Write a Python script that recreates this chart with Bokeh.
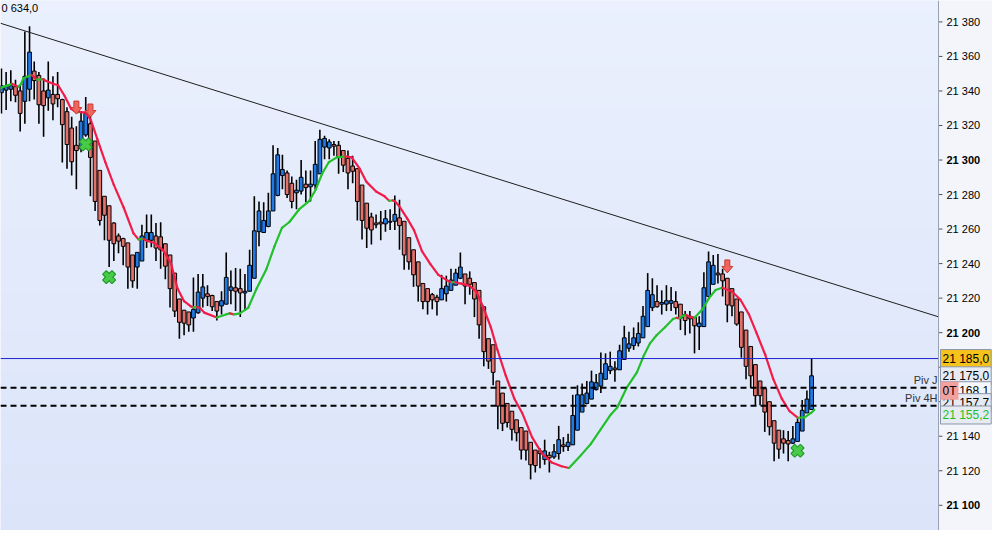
import math

from bokeh.core.properties import value
from bokeh.embed import file_html
from bokeh.models import BoxAnnotation, ColumnDataSource, Label, Range1d, Span
from bokeh.plotting import figure
from bokeh.resources import INLINE

# OHLC per candle
opens = [21339, 21340.5, 21341, 21342.5, 21340, 21334, 21341, 21351.5, 21349, 21340,
         21336, 21338, 21338, 21335, 21328, 21318.5, 21308.5, 21306.5, 21314.5, 21321,
         21311, 21294, 21279, 21273.5, 21263.5, 21256, 21254.5, 21252, 21245, 21238,
         21241.5, 21253.5, 21253.5, 21256, 21255.5, 21251.5, 21245, 21234.5, 21219.5, 21213,
         21212, 21208.5, 21211.5, 21220, 21222.5, 21221.5, 21218, 21215.5, 21216.5, 21224.5,
         21226, 21225.5, 21223, 21224, 21231.5, 21258.5, 21258, 21261.5, 21270.5, 21279.5,
         21291, 21292.5, 21286.5, 21281, 21282, 21286, 21284.5, 21285.5, 21292, 21307.5,
         21307, 21309, 21308.5, 21305.5, 21301, 21296.5, 21295, 21285.5, 21275, 21267,
         21263.5, 21264, 21263, 21264, 21264.5, 21266.5, 21264.5, 21255, 21248, 21241,
         21228.5, 21225.5, 21222, 21220.5, 21219, 21222.5, 21224.5, 21227.5, 21231.5, 21234,
         21231.5, 21229, 21224.5, 21215, 21196.5, 21193, 21172, 21165, 21159, 21154.5,
         21149.5, 21145, 21143, 21136.5, 21132, 21131.5, 21126.5, 21129, 21128, 21130,
         21135, 21134, 21135, 21143.5, 21154, 21159, 21161.5, 21167, 21169, 21173,
         21178, 21179.5, 21178.5, 21184.5, 21191, 21192.5, 21194, 21197, 21203.5, 21214.5,
         21218, 21216.5, 21216.5, 21217, 21218, 21216.5, 21210.5, 21209.5, 21209, 21203.5,
         21203.5, 21221, 21228, 21234.5, 21234, 21231.5, 21225.5, 21219.5, 21212, 21201.5,
         21192, 21181.5, 21172, 21167.5, 21160, 21149, 21143.5, 21138.5, 21137.5, 21136,
         21137, 21143, 21153.5, 21155.5]
highs = [21353, 21351, 21352, 21346.5, 21343.5, 21374.5, 21377.5, 21357, 21351, 21347.5,
         21357, 21348.5, 21351, 21335.5, 21330.5, 21325, 21319.5, 21328, 21336.5, 21327,
         21311, 21294, 21279, 21273.5, 21264, 21257.5, 21255, 21252, 21245, 21246.5,
         21262.5, 21268.5, 21268.5, 21263.5, 21264, 21251.5, 21245, 21234.5, 21219.5, 21213,
         21212, 21232, 21234, 21234, 21227.5, 21222, 21218, 21224, 21246.5, 21236,
         21237.5, 21237, 21234, 21248, 21279, 21276, 21275.5, 21281, 21308.5, 21307,
         21303, 21294, 21290.5, 21288.5, 21300, 21294, 21294, 21311, 21317.5, 21314,
         21312, 21311, 21311, 21305.5, 21305.5, 21302.5, 21295, 21285.5, 21275, 21269.5,
         21268.5, 21270.5, 21271, 21271.5, 21279.5, 21277, 21264.5, 21255, 21248, 21241,
         21228.5, 21225.5, 21223, 21222, 21233.5, 21233, 21237, 21237, 21246.5, 21234,
         21235.5, 21229, 21224.5, 21215, 21196.5, 21193, 21172, 21165, 21159, 21154.5,
         21149.5, 21145, 21143, 21136.5, 21132, 21133, 21138, 21131, 21135.5, 21146,
         21139.5, 21141.5, 21164, 21169.5, 21170.5, 21172, 21178, 21176, 21188.5, 21188,
         21189, 21183.5, 21193, 21204, 21200.5, 21203, 21206, 21215.5, 21234.5, 21231.5,
         21227.5, 21224.5, 21227.5, 21226.5, 21224, 21216.5, 21212.5, 21212.5, 21209, 21209.5,
         21235, 21247, 21245, 21245.5, 21237, 21231.5, 21225.5, 21219.5, 21212, 21201.5,
         21192, 21181.5, 21172, 21167.5, 21160, 21149, 21143.5, 21143.5, 21143, 21146,
         21150.5, 21161, 21166.5, 21185]
lows = [21327, 21329, 21334, 21333.5, 21316.5, 21321, 21334, 21335, 21321, 21313.5,
        21328.5, 21323, 21330.5, 21298.5, 21295, 21291, 21283, 21304.5, 21313.5, 21279,
        21270.5, 21262, 21253.5, 21238, 21241.5, 21246, 21239, 21225.5, 21226, 21225.5,
        21241.5, 21249, 21249.5, 21241.5, 21237, 21231, 21214.5, 21209, 21196.5, 21198.5,
        21200.5, 21200.5, 21211, 21214.5, 21215.5, 21212.5, 21207, 21210.5, 21216.5, 21216.5,
        21212.5, 21209, 21212.5, 21224, 21231.5, 21250, 21258, 21261, 21270.5, 21279,
        21283, 21278, 21272, 21271.5, 21280, 21275.5, 21276, 21283, 21292, 21300.5,
        21300.5, 21302.5, 21292, 21293, 21283, 21286.5, 21265, 21254, 21249, 21251,
        21260.5, 21253.5, 21258.5, 21259.5, 21259.5, 21248, 21236.5, 21236.5, 21226.5, 21218,
        21213.5, 21210.5, 21213.5, 21210, 21219, 21218, 21224.5, 21227.5, 21231, 21216.5,
        21222, 21209, 21196.5, 21180.5, 21179, 21169.5, 21144, 21143, 21145, 21137.5,
        21137, 21126.5, 21126, 21115, 21119, 21121.5, 21123.5, 21119, 21127, 21126.5,
        21131, 21131.5, 21135, 21143.5, 21154, 21158.5, 21161.5, 21166.5, 21165, 21173,
        21176, 21171.5, 21178.5, 21184.5, 21189, 21190, 21192, 21197, 21203.5, 21212.5,
        21214.5, 21210.5, 21212.5, 21212.5, 21210.5, 21201.5, 21198.5, 21199.5, 21188, 21190,
        21203.5, 21221, 21228, 21228.5, 21221, 21206, 21209.5, 21204, 21185.5, 21173,
        21168, 21158, 21158, 21142.5, 21140.5, 21125.5, 21127, 21130, 21125.5, 21135.5,
        21137, 21143, 21153.5, 21155.5]
closes = [21343, 21342.5, 21343, 21337.5, 21327, 21348.5, 21362.5, 21346, 21332, 21331.5,
          21340.5, 21332.5, 21335.5, 21320.5, 21309, 21299, 21305.5, 21322.5, 21327, 21301.5,
          21276, 21265, 21268, 21253.5, 21251.5, 21253, 21250, 21238, 21230, 21246.5,
          21256, 21258, 21258, 21249, 21248, 21238.5, 21225.5, 21212.5, 21206, 21205.5,
          21204.5, 21213.5, 21223.5, 21226.5, 21221, 21215, 21212.5, 21218.5, 21232, 21226.5,
          21224, 21223, 21224, 21239, 21259, 21270.5, 21265, 21270.5, 21292, 21303,
          21294.5, 21280, 21276, 21282.5, 21290, 21284, 21286, 21297.5, 21312, 21312.5,
          21310.5, 21308, 21302, 21297, 21292.5, 21293.5, 21276, 21265, 21260.5, 21259.5,
          21262.5, 21263, 21266, 21264.5, 21268.5, 21262, 21245, 21241, 21233.5, 21227,
          21218, 21218, 21219, 21218, 21225.5, 21227, 21230.5, 21234.5, 21238, 21227,
          21228, 21219.5, 21204.5, 21189, 21183.5, 21177, 21157.5, 21147.5, 21148, 21144,
          21142, 21132, 21132, 21123.5, 21123, 21130, 21131.5, 21127.5, 21131, 21138,
          21134, 21136.5, 21152, 21164, 21164, 21165, 21171.5, 21171, 21176.5, 21182,
          21180.5, 21178.5, 21189.5, 21197, 21193.5, 21197, 21199.5, 21209.5, 21224.5, 21222,
          21215, 21217.5, 21218.5, 21218.5, 21214.5, 21208.5, 21207, 21208, 21204, 21205.5,
          21226, 21241, 21239, 21233.5, 21230, 21216, 21215.5, 21205, 21191.5, 21180.5,
          21175, 21163.5, 21163.5, 21154, 21145.5, 21136, 21132.5, 21136, 21135.5, 21138.5,
          21148, 21155, 21161.5, 21175]

# smoothed average line (candle position, price)
ma_x = [-0.2, 1.2, 2.3, 3.6, 4.1, 4.7, 6.4, 7.6, 8.9, 9.3, 11.0, 12.1, 13.5, 14.9, 16.0,
        16.6, 18.0, 19.1, 20.5, 22.2, 24.0, 26.1, 28.2, 29.3, 30.3, 31.0, 32.7, 34.5, 36.2,
        37.6, 39.0, 40.4, 41.0, 41.8, 42.4, 43.3, 46.0, 48.1, 48.8, 49.6, 50.4, 50.9, 52.7,
        54.5, 56.6, 58.3, 59.9, 61.5, 63.6, 65.7, 67.1, 68.5, 69.9, 71.6, 73.4, 74.8, 76.5,
        77.9, 80.0, 81.8, 82.8, 83.6, 84.1, 84.9, 86.7, 88.1, 89.8, 91.6, 93.3, 95.1, 96.2,
        96.9, 97.6, 98.2, 100.0, 101.4, 102.8, 104.5, 105.9, 107.7, 109.5, 111.2, 113.3,
        115.4, 117.5, 119.6, 121.2, 123.8, 125.9, 128.0, 130.1, 131.5, 133.6, 135.7, 137.1,
        138.5, 139.9, 141.7, 143.4, 144.2, 144.8, 145.5, 146.2, 147.2, 148.0, 149.7, 151.1,
        152.5, 153.9, 156.0, 157.8, 159.6, 161.3, 163.1, 164.8, 166.6, 168.3, 170.1, 171.5,
        172.9, 173.6]
ma_y = [21341.8, 21343.1, 21344.1, 21342.4, 21343.7, 21347.4, 21349.3, 21346.6, 21346.9,
        21346.1, 21344.2, 21343.3, 21337.1, 21329.6, 21327.6, 21327.9, 21327.4, 21323.1,
        21311.9, 21298.7, 21285.6, 21272.5, 21257.5, 21254.0, 21254.3, 21253.2, 21251.9,
        21247.8, 21240.2, 21225.6, 21218.2, 21215.3, 21214.6, 21214.9, 21214.3, 21211.6,
        21208.8, 21210.7, 21211.2, 21210.6, 21210.9, 21211.2, 21214.4, 21225.6, 21236.9,
        21250.0, 21260.7, 21264.1, 21271.5, 21276.2, 21282.8, 21292.2, 21298.7, 21301.5,
        21302.1, 21301.5, 21295.0, 21287.5, 21281.8, 21279.0, 21276.4, 21276.6, 21275.9,
        21273.4, 21265.9, 21259.4, 21247.2, 21239.7, 21233.5, 21230.4, 21229.1, 21229.3,
        21228.7, 21228.4, 21227.1, 21223.8, 21215.3, 21203.2, 21190.1, 21175.1, 21161.9,
        21153.5, 21139.5, 21130.1, 21124.8, 21122.6, 21121.6, 21129.2, 21135.7, 21144.1,
        21152.5, 21156.7, 21168.5, 21177.0, 21186.3, 21193.8, 21198.5, 21203.1, 21207.9,
        21208.6, 21208.3, 21209.7, 21210.3, 21209.0, 21208.6, 21213.5, 21220.0, 21224.7,
        21226.0, 21223.8, 21219.1, 21210.7, 21199.4, 21187.2, 21173.2, 21161.9, 21154.5,
        21150.7, 21150.9, 21153.5, 21155.4]

sell_idx = [16, 19, 155]
sell_price = [21326.6, 21324.9, 21234.6]
buy_idx = [18, 23, 170]
buy_price = [21309.0, 21232.2, 21131.6]

trend_x = [5, 152]
trend_y = [21374.8, 21250.0]

day_high = 21185.0
piv_j = 21168.1
piv_4h = 21157.7
last_close = 21175.0
ma_last = 21155.2

y_ticks = list(range(21100, 21381, 20))

FONT = "Liberation Sans"
W, H = 992, 530
CHART_W = 938                     # plot area left of the price scale
X0, X1 = -0.2, 200.1              # visible candle positions
Y0, Y1 = 21085.4, 21392.4
px_x = CHART_W / (X1 - X0)
px_y = H / (Y1 - Y0)
XE = X0 + W / px_x                # range including the price scale strip


def fmt(v, dec=False):
    s = f"{v:,.1f}" if dec else f"{v:,.0f}"
    return s.replace(",", " ").replace(".", ",")


p = figure(width=W, height=H, x_range=Range1d(X0, XE), y_range=Range1d(Y0, Y1),
           output_backend="svg", toolbar_location=None, tools="",
           x_axis_location=None, y_axis_location=None,
           min_border_left=0, min_border_top=0, min_border_bottom=0, min_border_right=0)
p.outline_line_color = None
p.grid.visible = False
p.background_fill_color = "#f3f5fa"
p.border_fill_color = "#f3f5fa"

# soft vertical gradient of the chart area
top_rgb, bot_rgb = (234, 240, 253), (219, 228, 249)
n_band = 40
for k in range(n_band):
    t = (k + 0.5) / n_band
    rgb = tuple(round(b + (a - b) * t) for a, b in zip(top_rgb, bot_rgb))
    lo = Y0 + k * (Y1 - Y0) / n_band
    p.add_layout(BoxAnnotation(bottom=lo, top=lo + (Y1 - Y0) / n_band * 1.05, right=X1,
                               fill_color="#%02x%02x%02x" % rgb, fill_alpha=1,
                               line_color=None, level="underlay"))

# candles
idx = list(range(len(opens)))
src = ColumnDataSource(dict(
    i=idx, o=opens, h=highs, l=lows, c=closes,
    top=[max(a, b) for a, b in zip(opens, closes)],
    bottom=[min(a, b) for a, b in zip(opens, closes)],
    color=["#1f7ae6" if c >= o else "#e2716b" for o, c in zip(opens, closes)],
))
p.segment(x0="i", y0="l", x1="i", y1="h", source=src, line_color="black", line_width=1.6)
p.vbar(x="i", width=0.8, top="top", bottom="bottom", source=src,
       fill_color="color", line_color="black", line_width=1)

# average, red when falling, green when rising
seg_col = ["#22c02a" if b >= a else "#f21c48" for a, b in zip(ma_y[:-1], ma_y[1:])]
p.segment(x0=ma_x[:-1], y0=ma_y[:-1], x1=ma_x[1:], y1=ma_y[1:],
          line_color=seg_col, line_width=2.2, line_cap="round")

# trend line over the highs, drawn across the chart area
grad = (trend_y[1] - trend_y[0]) / (trend_x[1] - trend_x[0])
b0 = trend_y[0] - grad * trend_x[0]
p.line(x=[X0, X1], y=[b0 + grad * X0, b0 + grad * X1], line_color="#1e1e1e", line_width=1)

p.line(x=[X0, X1], y=[day_high, day_high], line_color="#1a22d0", line_width=1)
for lv in (piv_j, piv_4h):
    p.line(x=[X0, X1], y=[lv, lv], line_color="black", line_width=2, line_dash="6 4")

# sell arrows
shape = [(0, 0), (-5.5, 6.5), (-2.5, 6.5), (-2.5, 13), (2.5, 13), (2.5, 6.5), (5.5, 6.5)]
p.patches(xs=[[i + dx / px_x for dx, dy in shape] for i in sell_idx],
          ys=[[pr + dy / px_y for dx, dy in shape] for pr in sell_price],
          fill_color="#f0655c", line_color="#c63a33", line_width=1)

# buy crosses
for a in (math.pi / 4, -math.pi / 4):
    p.rect(x=buy_idx, y=buy_price, width=13, height=5, angle=a,
           width_units="screen", height_units="screen",
           fill_color="#48cc48", line_color="#23962a", line_width=1.4)
for a in (math.pi / 4, -math.pi / 4):
    p.rect(x=buy_idx, y=buy_price, width=12, height=4, angle=a,
           width_units="screen", height_units="screen",
           fill_color="#48cc48", line_color=None)

# price scale on the right
p.add_layout(Span(location=X1, dimension="height", line_color="#98a2b4", line_width=1))
p.segment(x0=[X1] * len(y_ticks), y0=y_ticks, x1=[X1 + 4 / px_x] * len(y_ticks), y1=y_ticks,
          line_color="#555555", line_width=1)
p.text(x=[X1 + 8 / px_x] * len(y_ticks), y=y_ticks, text=[fmt(v) for v in y_ticks],
       text_font=value(FONT), text_font_size="11px", text_align="left",
       text_baseline="middle", text_color="black",
       text_font_style=["bold" if v % 100 == 0 else "normal" for v in y_ticks])

# level names
for lv, name in ((piv_j, "Piv J"), (piv_4h, "Piv 4H")):
    p.add_layout(Label(x=X1, y=lv, x_offset=-1, y_offset=2, text=name, text_align="right",
                       text_baseline="bottom", text_font=FONT, text_font_size="11px",
                       text_color="#333333"))

# price boxes on the scale
boxes = [
    (day_high, 0, fmt(day_high, True), "#f6c21c", "black"),
    (last_close, 0, fmt(last_close, True), "#e6eaf3", "black"),
    (piv_j, -3, fmt(piv_j, True), "#f5f7fb", "black"),
    (piv_4h, 3, fmt(piv_4h, True), "#e6eaf3", "black"),
    (ma_last, -5, fmt(ma_last, True), "#e6eaf3", "#1fbf1f"),
]
for pr, off, txt, bg, tc in boxes:
    p.add_layout(Label(x=X1, y=pr, x_offset=2, y_offset=off, text=txt, text_align="left",
                       text_baseline="middle", text_font=FONT, text_font_size="12px",
                       text_color=tc, background_fill_color=bg, border_line_color="#8a96aa",
                       padding=2))
p.add_layout(Label(x=X1, y=piv_j, x_offset=2, y_offset=-3, text="0T", text_align="left",
                   text_baseline="middle", text_font=FONT, text_font_size="12px",
                   text_color="black", background_fill_color="#f2a0a0", padding=2))

p.add_layout(Label(x=X0, y=Y1, x_offset=1, y_offset=-1, text="0 634,0", text_align="left",
                   text_baseline="top", text_font=FONT, text_font_size="11px",
                   text_color="black"))

open("out.html", "w").write(file_html(p, INLINE))
